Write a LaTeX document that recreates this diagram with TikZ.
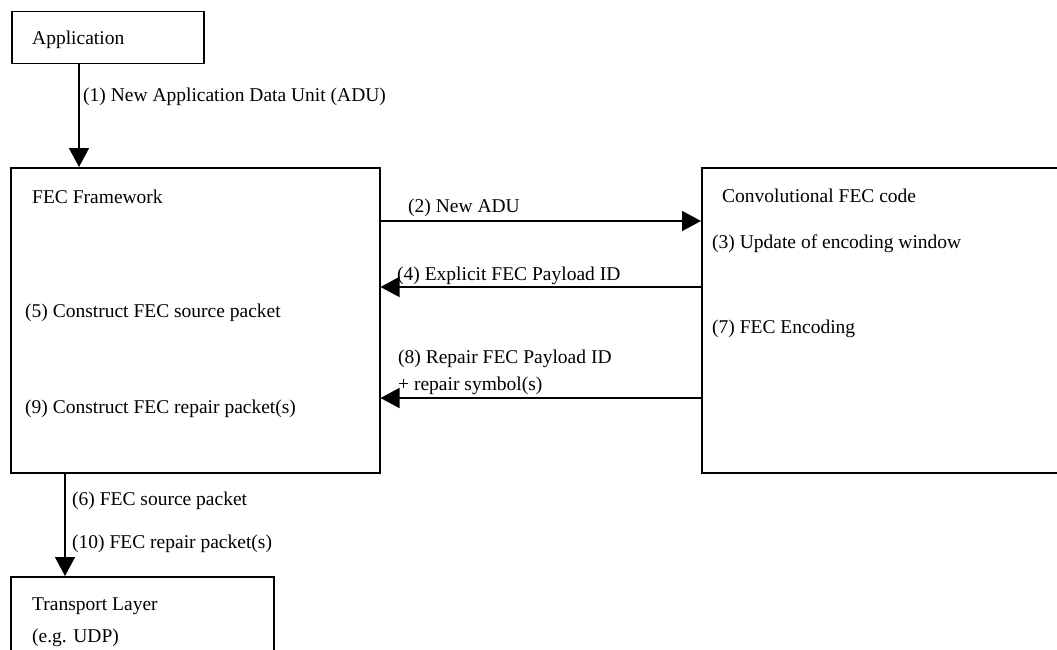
\documentclass[tikz,border=0pt]{standalone}
\usepackage{fontspec}
\setmainfont{Liberation Serif}
\usepackage{tikz}
\usetikzlibrary{arrows.meta,positioning}
\tikzset{
  boxnode/.style={rectangle,draw=black,line width=1.5pt,inner sep=0pt,
    anchor=north west},
  lbl/.style={font=\fontsize{19.5}{23}\selectfont,inner sep=0pt,
    anchor=base west},
  flow/.style={-{Triangle[length=19pt,width=20pt]},line width=1.5pt}
}

\begin{document}
\begin{tikzpicture}[x=1pt,y=-1pt]
  \clip (0,0) rectangle (1057,650);
  % Boxes
  \node[boxnode,minimum width=192pt,minimum height=52pt] (app) at (11,11) {};
  \node[boxnode,minimum width=369pt,minimum height=305pt] (fec) at (10,167) {};
  \node[boxnode,minimum width=380pt,minimum height=305pt] (conv) at (701,167) {};
  \node[boxnode,minimum width=263pt,minimum height=100pt] (tl) at (10,576) {};

  % Box texts
  \node[lbl] (apptxt) at (32,45) {Application};
  \node[lbl] (fectxt) at (32,203) {FEC Framework};
  \node[lbl] (convtxt) at (722,202) {Convolutional FEC code};
  \node[lbl] (tltxt) at (32,610) {Transport Layer};
  \node[lbl] (tltxtb) at (32,642) {(e.g. UDP)};
  \node[lbl] (s5) at (25,317) {(5) Construct FEC source packet};
  \node[lbl] (s9) at (25,413) {(9) Construct FEC repair packet(s)};
  \node[lbl] (s3) at (712,248) {(3) Update of encoding window};
  \node[lbl] (s7) at (712,333) {(7) FEC Encoding};

  % Arrows
  \draw[flow] ([xshift=68pt]app.south west) -- ([xshift=68pt]app.south west |- fec.north);
  \draw[flow] ([yshift=-54pt]fec.north east) -- ([yshift=-54pt]conv.north west);
  \draw[flow] ([yshift=-120pt]conv.north west) -- ([yshift=-120pt]fec.north east);
  \draw[flow] ([yshift=-231pt]conv.north west) -- ([yshift=-231pt]fec.north east);
  \draw[flow] ([xshift=55pt]fec.south west) -- ([xshift=55pt]fec.south west |- tl.north);

  % Arrow labels
  \node[lbl] (s1) at (83,102) {(1) New Application Data Unit (ADU)};
  \node[lbl] (s2) at (408,212) {(2) New ADU};
  \node[lbl] (s4) at (397,280) {(4) Explicit FEC Payload ID};
  \node[lbl] (s8) at (398,363) {(8) Repair FEC Payload ID};
  \node[lbl] (s8b) at (398,390) {+ repair symbol(s)};
  \node[lbl] (s6) at (72,505) {(6) FEC source packet};
  \node[lbl] (s10) at (72,548) {(10) FEC repair packet(s)};
\end{tikzpicture}
\end{document}
